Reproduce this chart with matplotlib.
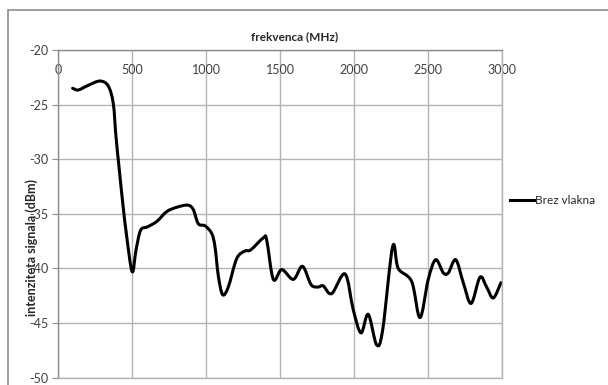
import matplotlib
matplotlib.use("Agg")
import matplotlib.pyplot as plt
from matplotlib.patches import Rectangle, PathPatch
from matplotlib.path import Path
from matplotlib.lines import Line2D

plt.rcParams['font.family'] = ['Lato', 'DejaVu Sans']
plt.rcParams['axes.unicode_minus'] = False

# readings taken off the chart
freq = [97, 135, 200, 282, 338, 372, 390, 413, 436, 463, 500, 526, 557, 602,
        666, 733, 801, 875, 913, 947, 993, 1038, 1060, 1083, 1112, 1150, 1207,
        1263, 1302, 1387, 1410, 1455, 1512, 1590, 1651, 1703, 1725, 1759, 1793,
        1850, 1940, 1996, 2048, 2097, 2154, 2195, 2262, 2300, 2391, 2447, 2503,
        2553, 2605, 2639, 2689, 2740, 2793, 2853, 2898, 2943, 2995]
level = [-23.5, -23.66, -23.25, -22.84, -23.3, -24.9, -27.9, -31.0, -34.0, -37.1,
         -40.3, -38.3, -36.5, -36.2, -35.7, -34.8, -34.4, -34.2, -34.6, -35.9,
         -36.1, -36.8, -38.0, -40.7, -42.4, -41.7, -39.1, -38.4, -38.3, -37.2,
         -37.4, -41.0, -40.1, -41.0, -39.8, -41.3, -41.65, -41.7, -41.6, -42.3,
         -40.5, -43.8, -45.9, -44.2, -47.0, -45.6, -38.0, -40.0, -41.2, -44.5,
         -41.0, -39.2, -40.4, -40.4, -39.2, -41.3, -43.2, -40.8, -41.7, -42.7,
         -41.3]

series_name = "Brez vlakna"
x_ticks = [0, 500, 1000, 1500, 2000, 2500, 3000]
y_ticks = [-50, -45, -40, -35, -30, -25, -20]


def smooth_path(xs, ys):
    # excel style smoothed line: bezier segments through every point
    pts = list(zip(xs, ys))
    n = len(pts)
    verts = [pts[0]]
    codes = [Path.MOVETO]
    for i in range(n - 1):
        p0 = pts[i - 1] if i > 0 else pts[i]
        p1 = pts[i]
        p2 = pts[i + 1]
        p3 = pts[i + 2] if i + 2 < n else pts[i + 1]
        c1 = (p1[0] + (p2[0] - p0[0]) / 6, p1[1] + (p2[1] - p0[1]) / 6)
        c2 = (p2[0] - (p3[0] - p1[0]) / 6, p2[1] - (p3[1] - p1[1]) / 6)
        verts += [c1, c2, p2]
        codes += [Path.CURVE4] * 3
    return Path(verts, codes)


W, H = 608, 385
fig = plt.figure(figsize=(W / 100, H / 100), dpi=100)

# chart border like excel (cut off at right/bottom)
fig.patches.append(Rectangle((8 / W, -0.1), 1.1, (H - 10) / H + 0.1, transform=fig.transFigure,
                             fill=False, edgecolor='#8c8c8c', linewidth=1.2))

ax = fig.add_axes([58.3 / W, (H - 377.7) / H, 443.4 / W, 327.7 / H])
ax.add_patch(PathPatch(smooth_path(freq, level), fill=False, edgecolor='black',
                       linewidth=2.2, joinstyle='round', capstyle='round'))

ax.set_xlim(0, 3000)
ax.set_ylim(-50, -20)
ax.set_xticks(x_ticks)
ax.set_yticks(y_ticks)
ax.grid(True, color='#b3b3b3', linewidth=1.0)
ax.set_axisbelow(True)
for s in ax.spines.values():
    s.set_color('#b3b3b3')
    s.set_linewidth(1.0)
ax.spines['left'].set_color('#8c8c8c')
ax.spines['top'].set_color('#8c8c8c')

ax.xaxis.tick_top()
ax.tick_params(axis='x', length=0, pad=-19, labelsize=9, labelcolor='#404040')
ax.tick_params(axis='y', length=4, color='#8c8c8c', pad=3, labelsize=9, labelcolor='#404040')

fig.text(295 / W, 1 - 37 / H, "frekvenca (MHz)", ha='center', va='center',
         fontsize=8.5, fontweight='bold', color='#262626')
fig.text(32 / W, 1 - 248 / H, "intenziteta signala (dBm)", ha='center', va='center',
         rotation=90, fontsize=9, fontweight='bold', color='#262626')

handle = Line2D([], [], color='black', linewidth=2.2)
ax.legend([handle], [series_name], loc='center left', bbox_to_anchor=(0.995, 0.54),
          frameon=False, fontsize=8.5, handlelength=2.0, handletextpad=0.1,
          labelcolor='#262626')

fig.savefig("out.png", dpi=100)
